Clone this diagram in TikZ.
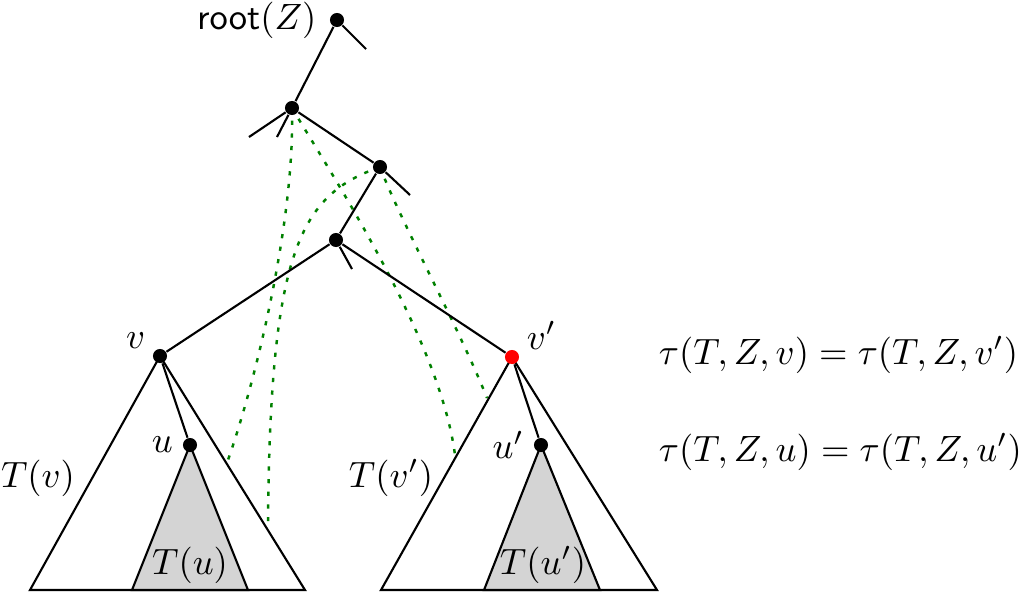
\documentclass[tikz,border=0pt]{standalone}
\usepackage{amsmath}
\usetikzlibrary{positioning,calc}

\tikzset{
  vert/.style={shape=circle,fill=black,inner sep=0pt,minimum size=4pt},
  trail/.style={green!50!black,line width=0.7pt,dash pattern=on 1.2pt off 2.4pt},
  subtree/.style={semithick,fill=white},
  edge/.style={semithick},
  lab/.style={scale=1.04},
}

\begin{document}
\begin{tikzpicture}[x=0.01cm,y=-0.01cm]
      \useasboundingbox (0,0) rectangle (1025,593);

      % vertex positions
      \coordinate (Root) at (337,20);
      \coordinate (A)    at (292,108);
      \coordinate (B)    at (380,167);
      \coordinate (C)    at (336,240);
      \coordinate (V)    at (160,356);
      \coordinate (W)    at (512,357);
      \coordinate (U)    at (190,445);
      \coordinate (X)    at (541,445);

      % free ends of the stubs
      \coordinate (sRoot) at (366,49);
      \coordinate (sA1)   at (249,137);
      \coordinate (sA2)   at (277,137);
      \coordinate (sB)    at (410,195);
      \coordinate (sC)    at (352,269);

      % where the dotted paths meet the subtrees
      \coordinate (e1) at (228,460);
      \coordinate (e2) at (268,525);
      \coordinate (e3) at (455,455);
      \coordinate (e4) at (487,398);

      % dotted paths
      \draw [trail] (A) .. controls (295,220) and (256,380) .. (e1);
      \draw [trail] (B) .. controls (300,195) and (270,250) .. (e2);
      \draw [trail] (A) .. controls (335,180) and (440,340) .. (e3);
      \draw [trail] (B) .. controls (400,220) and (460,330) .. (e4);

      % subtrees T(v), T(v') and T(u), T(u')
      \draw [subtree] (V) -- (30,590) -- (305,590) -- cycle;
      \draw [subtree] (W) -- (381,590) -- (657,590) -- cycle;
      \draw [subtree,fill=black!17] (U) -- (132,590) -- (248,590) -- cycle;
      \draw [subtree,fill=black!17] (X) -- (484,590) -- (600,590) -- cycle;

      % setup the nodes
      \node[vert] (root) at (Root){};
      \node[vert] (a) at (A){};
      \node[vert] (b) at (B){};
      \node[vert] (c) at (C){};
      \node[vert] (v) at (V){};
      \node[vert,fill=red] (v2) at (W){};
      \node[vert] (u) at (U){};
      \node[vert] (u2) at (X){};

      \draw [edge] (root) -- (a);
      \draw [edge] (a) -- (b);
      \draw [edge] (b) -- (c);
      \draw [edge] (c) -- (v);
      \draw [edge] (c) -- (v2);
      \draw [edge] (v) -- (u);
      \draw [edge] (v2) -- (u2);

      \draw [edge] (root) -- (sRoot);
      \draw [edge] (a) -- (sA1);
      \draw [edge] (a) -- (sA2);
      \draw [edge] (b) -- (sB);
      \draw [edge] (c) -- (sC);

      % labels
      \node[lab,left=0pt of root] (rootlab) {$\mathsf{root}(Z)$};
      \node[lab,above left=-3pt and -1pt of v] (vlab) {$v$};
      \node[lab,above right=-3pt and -1pt of v2] (v2lab) {$v'$};
      \node[lab,left=-1pt of u] (ulab) {$u$};
      \node[lab,left=-1pt of u2] (u2lab) {$u'$};
      \node[lab] (Tv)  at (38,478)  {$T(v)$};
      \node[lab] (Tv2) at (391,478) {$T(v')$};
      \node[lab] (Tu)  at (190,565) {$T(u)$};
      \node[lab] (Tu2) at (543,565) {$T(u')$};

      \node[lab,anchor=west] (eqv) at (646,355) {$\tau(T,Z,v)=\tau(T,Z,v')$};
      \node[lab,anchor=west] (equ) at (646,452) {$\tau(T,Z,u)=\tau(T,Z,u')$};

\end{tikzpicture}
\end{document}
